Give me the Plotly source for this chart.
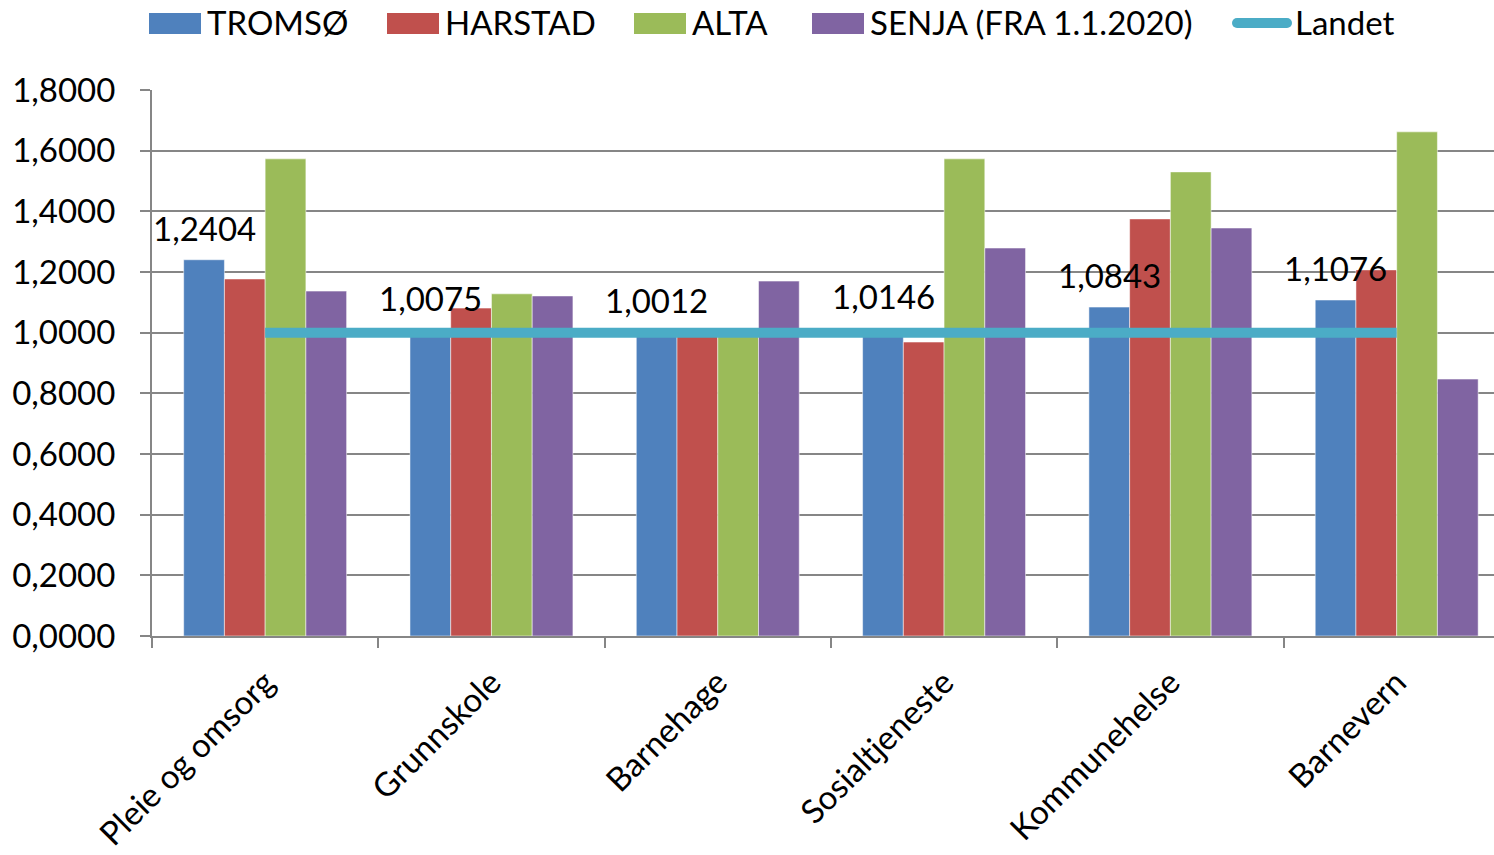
import plotly.graph_objects as go

categories = ["Pleie og omsorg", "Grunnskole", "Barnehage", "Sosialtjeneste", "Kommunehelse", "Barnevern"]
tromso = [1.2404, 1.0075, 1.0012, 1.0146, 1.0843, 1.1076]
harstad = [1.177, 1.081, 0.995, 0.969, 1.375, 1.207]
alta = [1.573, 1.128, 0.998, 1.573, 1.530, 1.662]
senja = [1.137, 1.121, 1.170, 1.279, 1.345, 0.847]
landet = [1.0, 1.0, 1.0, 1.0, 1.0, 1.0]
tromso_labels = ["1,2404", "1,0075", "1,0012", "1,0146", "1,0843", "1,1076"]
series_names = ["TROMSØ", "HARSTAD", "ALTA", "SENJA (FRA 1.1.2020)"]
series_colors = ["#4F81BD", "#C0504D", "#9BBB59", "#8064A2"]
landet_name = "Landet"
landet_color = "#4BACC6"

FONT = "Lato, Carlito, Calibri, sans-serif"
FS = 33

W, H = 1494, 855
L, R, T, B = 152, 0, 90, 219
PW, PH = W - L - R, H - T - B


def px_x(px):
    return (px - L) / PW


def px_y(py):
    return (H - B - py) / PH


fig = go.Figure()
for name, vals, col in zip(series_names, [tromso, harstad, alta, senja], series_colors):
    fig.add_trace(go.Bar(
        x=categories, y=vals, name=name, showlegend=False,
        marker=dict(color=col, line=dict(color="rgba(255,255,255,0.5)", width=1)),
    ))

fig.add_trace(go.Scatter(
    x=categories, y=landet, name=landet_name, mode="lines", showlegend=False,
    line=dict(color=landet_color, width=10),
))

for c, v, t in zip(categories, tromso, tromso_labels):
    fig.add_annotation(
        x=c, y=v, text=t, showarrow=False, xshift=-61, yshift=32,
        yanchor="middle", font=dict(family=FONT, size=FS, color="#000000"),
    )

# custom legend (large swatches like the original)
swatch_left = [149, 387, 634, 812]
for name, col, sx in zip(series_names, series_colors, swatch_left):
    fig.add_shape(type="rect", xref="paper", yref="paper",
                  x0=px_x(sx), x1=px_x(sx + 52), y0=px_y(34), y1=px_y(13),
                  fillcolor=col, line=dict(width=0))
    fig.add_annotation(xref="paper", yref="paper", x=px_x(sx + 56), y=px_y(22),
                       text=name, showarrow=False, xanchor="left", yanchor="middle",
                       font=dict(family=FONT, size=FS, color="#000000"))
fig.add_shape(type="line", xref="paper", yref="paper",
              x0=px_x(1237), x1=px_x(1287), y0=px_y(23), y1=px_y(23),
              line=dict(color=landet_color, width=10))
for ex in (1237, 1287):
    fig.add_shape(type="circle", xref="paper", yref="paper",
                  x0=px_x(ex - 5), x1=px_x(ex + 5), y0=px_y(28), y1=px_y(18),
                  fillcolor=landet_color, line=dict(width=0))
fig.add_annotation(xref="paper", yref="paper", x=px_x(1293), y=px_y(22),
                   text=landet_name, showarrow=False, xanchor="left", yanchor="middle",
                   font=dict(family=FONT, size=FS, color="#000000"))

fig.update_layout(
    width=W, height=H,
    margin=dict(l=L, r=R, t=T, b=B, autoexpand=False),
    paper_bgcolor="white", plot_bgcolor="white",
    barmode="group", bargap=0.28, bargroupgap=0,
    separators=", ",
    font=dict(family=FONT, size=FS, color="#000000"),
    showlegend=False,
)
fig.update_xaxes(
    type="category", range=[-0.5, 5.43], automargin=False,
    tickangle=-45, tickson="boundaries", ticklabelstandoff=12,
    ticks="outside", ticklen=10, tickcolor="#868686", tickwidth=2,
    showline=True, linecolor="#868686", linewidth=2,
    showgrid=False,
    tickfont=dict(family=FONT, size=FS),
)
fig.update_yaxes(
    range=[0, 1.8], dtick=0.2, tickformat=".4f", automargin=False,
    ticklabelstandoff=18,
    ticks="outside", ticklen=10, tickcolor="#868686", tickwidth=2,
    showline=True, linecolor="#868686", linewidth=2,
    showgrid=True, gridcolor="#868686", gridwidth=2,
    zeroline=False,
    tickfont=dict(family=FONT, size=FS),
)

fig.write_html(
    "out.html",
    config={"displayModeBar": False},
    post_script="document.body.style.margin='0px';document.body.style.overflow='hidden';",
)
